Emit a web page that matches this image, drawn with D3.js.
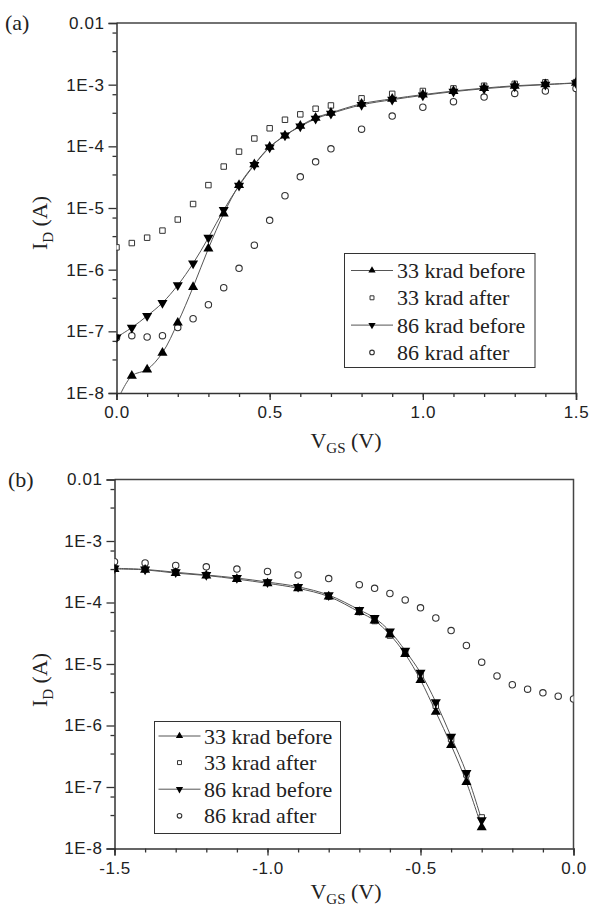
<!doctype html>
<html lang="en">
<head>
  <meta charset="utf-8">
  <title>ID-VGS before / after irradiation</title>
  <script src="https://cdn.jsdelivr.net/npm/d3@7"></script>
  <style>
    body { margin: 0; background: #fff; }
    svg text { fill: #222; }
    .serif { font-family: "Liberation Serif", Tinos, "Times New Roman", Times, "Noto Serif", serif; }
    .sans { font-family: "Liberation Sans", Arimo, Arial, Helvetica, Roboto, sans-serif; }
  </style>
</head>
<body>
  <div id="container"></div>
<script>
  // Panel (a): VGS sweep 0 .. 1.5 V
  const vgsA = [0, 0.05, 0.1, 0.15, 0.2, 0.25, 0.3, 0.35, 0.4, 0.45, 0.5, 0.55, 0.6, 0.65, 0.7,
                0.8, 0.9, 1.0, 1.1, 1.2, 1.3, 1.4, 1.5];
  const a33Before = [7e-9, 1.9e-8, 2.4e-8, 4.5e-8, 1.38e-7, 5.2e-7, 2.2e-6, 8.1e-6, 2.35e-5, 5.1e-5, 9.8e-5,
                     1.5e-4, 2.15e-4, 2.9e-4, 3.5e-4, 4.9e-4, 5.9e-4, 6.9e-4, 7.9e-4, 8.8e-4, 9.6e-4, 1.01e-3, 1.07e-3];
  const a33After  = [2.3e-6, 2.7e-6, 3.3e-6, 4.3e-6, 6.5e-6, 1.16e-5, 2.35e-5, 4.7e-5, 8.2e-5, 1.34e-4, 1.96e-4,
                     2.7e-4, 3.3e-4, 4.07e-4, 4.6e-4, 6.0e-4, 7.1e-4, 7.9e-4, 8.7e-4, 9.6e-4, 1.03e-3, 1.09e-3, 1.1e-3];
  const a86Before = [8.0e-8, 1.15e-7, 1.78e-7, 2.9e-7, 5.6e-7, 1.26e-6, 3.3e-6, 9.3e-6, 2.3e-5, 5.0e-5, 9.6e-5,
                     1.5e-4, 2.1e-4, 2.8e-4, 3.4e-4, 4.7e-4, 5.7e-4, 6.7e-4, 7.7e-4, 8.6e-4, 9.4e-4, 1.0e-3, 1.06e-3];
  const a86After  = [7.9e-8, 8.5e-8, 8.1e-8, 8.5e-8, 1.15e-7, 1.6e-7, 2.7e-7, 5.1e-7, 1.05e-6, 2.5e-6, 6.3e-6,
                     1.58e-5, 3.2e-5, 5.6e-5, 9.1e-5, 1.9e-4, 3.1e-4, 4.3e-4, 5.3e-4, 6.3e-4, 7.2e-4, 7.9e-4, 8.7e-4];

  // Panel (b): VGS sweep -1.5 .. 0 V
  const vgsBBefore = [-1.5, -1.4, -1.3, -1.2, -1.1, -1.0, -0.9, -0.8, -0.7, -0.65, -0.6, -0.55, -0.5,
                      -0.45, -0.4, -0.35, -0.3];
  const vgsBAfter  = [-1.5, -1.4, -1.3, -1.2, -1.1, -1.0, -0.9, -0.8, -0.7, -0.65, -0.6, -0.55, -0.5,
                      -0.45, -0.4, -0.35, -0.3, -0.25, -0.2, -0.15, -0.1, -0.05, 0.0];
  const b33Before = [3.5e-4, 3.4e-4, 3.0e-4, 2.75e-4, 2.4e-4, 2.05e-4, 1.7e-4, 1.25e-4, 7.0e-5, 5.1e-5, 3.0e-5,
                     1.45e-5, 5.5e-6, 1.66e-6, 4.8e-7, 1.2e-7, 2.2e-8];
  const b33After  = [3.6e-4, 3.5e-4, 3.1e-4, 2.8e-4, 2.45e-4, 2.1e-4, 1.75e-4, 1.25e-4, 7.0e-5, 5.0e-5, 2.9e-5,
                     1.5e-5, 6.5e-6, 2.1e-6, 6.0e-7, 1.6e-7, 3.2e-8];
  const b86Before = [3.6e-4, 3.45e-4, 3.1e-4, 2.8e-4, 2.5e-4, 2.15e-4, 1.8e-4, 1.32e-4, 7.6e-5, 5.6e-5, 3.4e-5,
                     1.65e-5, 7.2e-6, 2.4e-6, 6.6e-7, 1.7e-7, 2.9e-8];
  const b86After  = [4.6e-4, 4.4e-4, 4.0e-4, 3.8e-4, 3.5e-4, 3.2e-4, 2.8e-4, 2.45e-4, 1.95e-4, 1.7e-4, 1.4e-4,
                     1.1e-4, 8.2e-5, 5.6e-5, 3.5e-5, 2.0e-5, 1.07e-5, 6.4e-6, 4.6e-6, 3.9e-6, 3.4e-6, 3.0e-6, 2.7e-6];

  const legendLabels = ['33 krad before', '33 krad after', '86 krad before', '86 krad after'];
  const yTickValues = [1e-8, 1e-7, 1e-6, 1e-5, 1e-4, 1e-3, 1e-2];
  const yTickLabels = ['1E-8', '1E-7', '1E-6', '1E-5', '1E-4', '1E-3', '0.01'];
  const xTicksA = [0, 0.5, 1.0, 1.5];
  const xTicksB = [-1.5, -1.0, -0.5, 0.0];

  const svg = d3.select('#container')
    .append('svg')
    .attr('width', 592)
    .attr('height', 911);

  // marker kinds per legend entry
  const markerKind = ['up', 'square', 'down', 'circle'];
  const hasLine = [true, false, true, false];

  function marker(sel, kind, s) {
    if (kind === 'up' || kind === 'down') {
      sel.append('path')
        .attr('d', d3.symbol(d3.symbolTriangle, 44 * s * s)())
        .attr('transform', kind === 'down' ? 'rotate(180)' : null)
        .attr('fill', '#000');
    } else if (kind === 'square') {
      sel.append('path')
        .attr('d', d3.symbol(d3.symbolSquare, 30 * s * s)())
        .attr('fill', '#fff').attr('stroke', '#333').attr('stroke-width', 1);
    } else {
      sel.append('circle')
        .attr('r', 3.2 * s)
        .attr('fill', '#fff').attr('stroke', '#333').attr('stroke-width', 1.1);
    }
  }

  function drawPanel(p) {
    const x = d3.scaleLinear().domain(p.xDomain).range([p.left, p.right]);
    const y = d3.scaleLog().domain([1e-8, 1e-2]).range([p.bottom, p.top]);
    const g = svg.append('g');

    const clipId = 'clip-' + p.tag;
    g.append('clipPath').attr('id', clipId)
      .append('rect')
      .attr('x', p.left).attr('y', p.top)
      .attr('width', p.right - p.left).attr('height', p.bottom - p.top);

    // frame (top and right)
    g.append('path')
      .attr('d', `M${p.left},${p.top}H${p.right}V${p.bottom}`)
      .attr('fill', 'none').attr('stroke', '#444').attr('stroke-width', 1.5);

    // x axis
    const xMinor = d3.range(p.xDomain[0], p.xDomain[1] + 1e-9, 0.1);
    g.append('g')
      .attr('transform', `translate(0,${p.bottom})`)
      .call(d3.axisBottom(x).tickValues(xMinor).tickSize(4).tickFormat(''))
      .call(a => a.select('.domain').remove());
    g.append('g')
      .attr('transform', `translate(0,${p.bottom})`)
      .call(d3.axisBottom(x).tickValues(p.xTicks).tickSize(7).tickPadding(6)
        .tickFormat(d3.format('.1f')))
      .call(a => a.attr('font-family', null).attr('font-size', null))
      .call(a => a.select('.domain').attr('stroke-width', 1.5).attr('stroke', '#333'))
      .call(a => a.selectAll('text').attr('class', 'sans').style('font-size', '17px')
        .attr('letter-spacing', 0.6).text(d => d3.format('.1f')(d).replace('−', '-')));

    // y axis
    const yMinor = [];
    yTickValues.slice(0, -1).forEach(v => { yMinor.push(v * 3.5, v * 7); });
    g.append('g')
      .attr('transform', `translate(${p.left},0)`)
      .call(d3.axisLeft(y).tickValues(yMinor).tickSize(4).tickFormat(''))
      .call(a => a.select('.domain').remove());
    g.append('g')
      .attr('transform', `translate(${p.left},0)`)
      .call(d3.axisLeft(y).tickValues(yTickValues).tickSize(8).tickPadding(4)
        .tickFormat((d, i) => yTickLabels[i]))
      .call(a => a.attr('font-family', null).attr('font-size', null))
      .call(a => a.select('.domain').attr('stroke-width', 1.5).attr('stroke', '#333'))
      .call(a => a.selectAll('text').attr('class', 'sans').style('font-size', '17px')
        .attr('letter-spacing', 0.6));
    g.selectAll('.tick line').attr('stroke', '#333').attr('stroke-width', 1.3);

    // series
    const plot = g.append('g').attr('clip-path', `url(#${clipId})`);
    const line = d3.line().x(d => x(d[0])).y(d => y(d[1])).curve(d3.curveCatmullRom);
    p.series.forEach((s, i) => {
      if (!hasLine[i]) return;
      plot.append('path')
        .datum(d3.zip(s.xs, s.ys))
        .attr('d', line)
        .attr('fill', 'none').attr('stroke', '#555').attr('stroke-width', 1);
    });
    // draw after-series first so black triangles stay on top
    [1, 3, 2, 0].forEach(i => {
      const s = p.series[i];
      plot.append('g').selectAll('g')
        .data(d3.zip(s.xs, s.ys))
        .join('g')
        .attr('transform', d => `translate(${x(d[0])},${y(d[1])})`)
        .each(function() { marker(d3.select(this), markerKind[i], 1); });
    });

    // legend
    const L = p.legend;
    g.append('rect')
      .attr('x', L.x).attr('y', L.y).attr('width', L.w).attr('height', L.h)
      .attr('fill', '#fff').attr('stroke', '#333').attr('stroke-width', 1);
    legendLabels.forEach((lab, i) => {
      const cy = L.row0 + i * L.dy;
      const row = g.append('g');
      if (hasLine[i]) {
        row.append('line')
          .attr('x1', L.sx - 21).attr('x2', L.sx + 21).attr('y1', cy).attr('y2', cy)
          .attr('stroke', '#555').attr('stroke-width', 1);
      }
      marker(row.append('g').attr('transform', `translate(${L.sx},${cy})`), markerKind[i], 0.72);
      row.append('text')
        .attr('class', 'serif')
        .attr('x', L.tx).attr('y', cy + 7.5)
        .style('font-size', '22px')
        .text(lab);
    });

    // axis titles
    const xt = g.append('text')
      .attr('class', 'serif')
      .attr('x', 346).attr('y', p.xTitleY)
      .attr('text-anchor', 'middle')
      .style('font-size', '22px');
    xt.append('tspan').text('V');
    xt.append('tspan').attr('dy', 5).style('font-size', '15px').text('GS');
    xt.append('tspan').attr('dy', -5).text(' (V)');

    const yt = g.append('text')
      .attr('class', 'serif')
      .attr('transform', `translate(47,${p.yTitleY}) rotate(-90)`)
      .attr('text-anchor', 'middle')
      .style('font-size', '22px');
    yt.append('tspan').text('I');
    yt.append('tspan').attr('dy', 6).style('font-size', '15px').text('D');
    yt.append('tspan').attr('dy', -6).text(' (A)');

    g.append('text')
      .attr('class', 'serif')
      .attr('x', p.tagX).attr('y', p.top + 7)
      .style('font-size', '22px')
      .text(`(${p.tag})`);
  }

  drawPanel({
    tag: 'a', tagX: 5,
    left: 116.5, right: 576, top: 23, bottom: 393,
    xDomain: [0, 1.5], xTicks: xTicksA,
    xTitleY: 448, yTitleY: 223,
    series: [
      { xs: vgsA, ys: a33Before },
      { xs: vgsA, ys: a33After },
      { xs: vgsA, ys: a86Before },
      { xs: vgsA, ys: a86After }
    ],
    legend: { x: 344.5, y: 253.5, w: 190.5, h: 114, row0: 270.5, dy: 27.3, sx: 372, tx: 397 }
  });

  drawPanel({
    tag: 'b', tagX: 8,
    left: 114.5, right: 573.5, top: 479.5, bottom: 848.5,
    xDomain: [-1.5, 0], xTicks: xTicksB,
    xTitleY: 899, yTitleY: 680,
    series: [
      { xs: vgsBBefore, ys: b33Before },
      { xs: vgsBBefore, ys: b33After },
      { xs: vgsBBefore, ys: b86Before },
      { xs: vgsBAfter, ys: b86After }
    ],
    legend: { x: 154.5, y: 721.5, w: 186, h: 112, row0: 736, dy: 26.6, sx: 179.5, tx: 204 }
  });
</script>
</body>
</html>
